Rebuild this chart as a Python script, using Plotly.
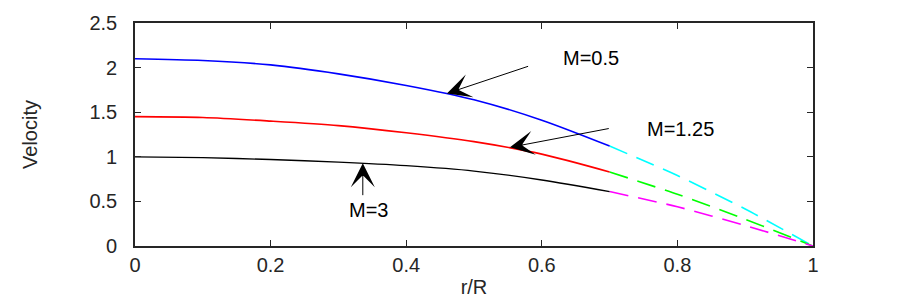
import plotly.graph_objects as go

# r/R sample positions (solid region) and read-off velocities
r_solid = [0.0, 0.1, 0.2, 0.3, 0.4, 0.5, 0.6, 0.7]
v_m05 = [2.10, 2.08, 2.03, 1.93, 1.80, 1.64, 1.41, 1.12]
v_m125 = [1.45, 1.44, 1.40, 1.35, 1.27, 1.17, 1.03, 0.83]
v_m3 = [1.00, 0.99, 0.97, 0.94, 0.90, 0.84, 0.74, 0.61]

# dashed continuation to the wall
r_dash = [0.7, 0.8, 0.9, 1.0]
d_m05 = [1.12, 0.79, 0.415, 0.0]
d_m125 = [0.83, 0.58, 0.30, 0.0]
d_m3 = [0.61, 0.44, 0.23, 0.0]

x_ticks = [0, 0.2, 0.4, 0.6, 0.8, 1]
x_tick_text = ["0", "0.2", "0.4", "0.6", "0.8", "1"]
y_ticks = [0, 0.5, 1, 1.5, 2, 2.5]
y_tick_text = ["0", "0.5", "1", "1.5", "2", "2.5"]

labels = ["M=0.5", "M=1.25", "M=3"]
label_pos = [(0.673, 2.113), (0.804, 1.31), (0.345, 0.404)]
arrow_tail = [(0.582, 2.02), (0.701, 1.32), (0.336, 0.553)]
arrow_tip = [(0.46, 1.71), (0.553, 1.106), (0.336, 0.927)]

FONT = "Liberation Sans"
AX = "#262626"

fig = go.Figure()
fig.add_trace(go.Scatter(x=r_dash, y=d_m05, mode="lines", line=dict(color="#00FFFF", width=1.6, dash="19px,10px", shape="spline", smoothing=0.6)))
fig.add_trace(go.Scatter(x=r_dash, y=d_m125, mode="lines", line=dict(color="#00FF00", width=1.6, dash="19px,10px", shape="spline", smoothing=0.6)))
fig.add_trace(go.Scatter(x=r_dash, y=d_m3, mode="lines", line=dict(color="#FF00FF", width=1.6, dash="19px,10px", shape="spline", smoothing=0.6)))
fig.add_trace(go.Scatter(x=r_solid, y=v_m05, mode="lines", line=dict(color="#0000FF", width=1.6, shape="spline", smoothing=0.8)))
fig.add_trace(go.Scatter(x=r_solid, y=v_m125, mode="lines", line=dict(color="#FF0000", width=1.6, shape="spline", smoothing=0.8)))
fig.add_trace(go.Scatter(x=r_solid, y=v_m3, mode="lines", line=dict(color="#000000", width=1.3, shape="spline", smoothing=0.8)))

annotations = []
for lab, (tx, ty) in zip(labels, label_pos):
    annotations.append(dict(x=tx, y=ty, xref="x", yref="y", text=lab, showarrow=False,
                            font=dict(family=FONT, size=20, color="#000000"),
                            xanchor="center", yanchor="middle"))
for (hx, hy), (tx, ty) in zip(arrow_tip, arrow_tail):
    annotations.append(dict(x=hx, y=hy, xref="x", yref="y", ax=tx, ay=ty, axref="x", ayref="y",
                            text="", showarrow=True, arrowhead=3, arrowsize=4, arrowwidth=1,
                            arrowcolor="#000000"))

fig.update_layout(
    width=900, height=300,
    margin=dict(l=127, r=95, t=15, b=62, autoexpand=False),
    paper_bgcolor="white", plot_bgcolor="white",
    showlegend=False,
    annotations=annotations,
    font=dict(family=FONT, size=20, color=AX),
)
fig.update_xaxes(range=[0, 1], tickvals=x_ticks, ticktext=x_tick_text, automargin=False,
                 showline=True, linecolor=AX, linewidth=1.6, mirror="ticks",
                 ticks="inside", ticklen=6, tickcolor=AX, tickwidth=1.2,
                 showgrid=False, zeroline=False,
                 tickfont=dict(family=FONT, size=20, color=AX),
                 title=dict(text="r/R", font=dict(family=FONT, size=20, color=AX), standoff=5))
fig.update_yaxes(range=[0, 2.5], tickvals=y_ticks, ticktext=y_tick_text, automargin=False,
                 showline=True, linecolor=AX, linewidth=1.6, mirror="ticks",
                 ticks="inside", ticklen=6, tickcolor=AX, tickwidth=1.2,
                 showgrid=False, zeroline=False, ticklabelstandoff=12,
                 tickfont=dict(family=FONT, size=20, color=AX),
                 title=dict(text="Velocity", font=dict(family=FONT, size=20, color=AX), standoff=46))

fig.write_html("out.html")
